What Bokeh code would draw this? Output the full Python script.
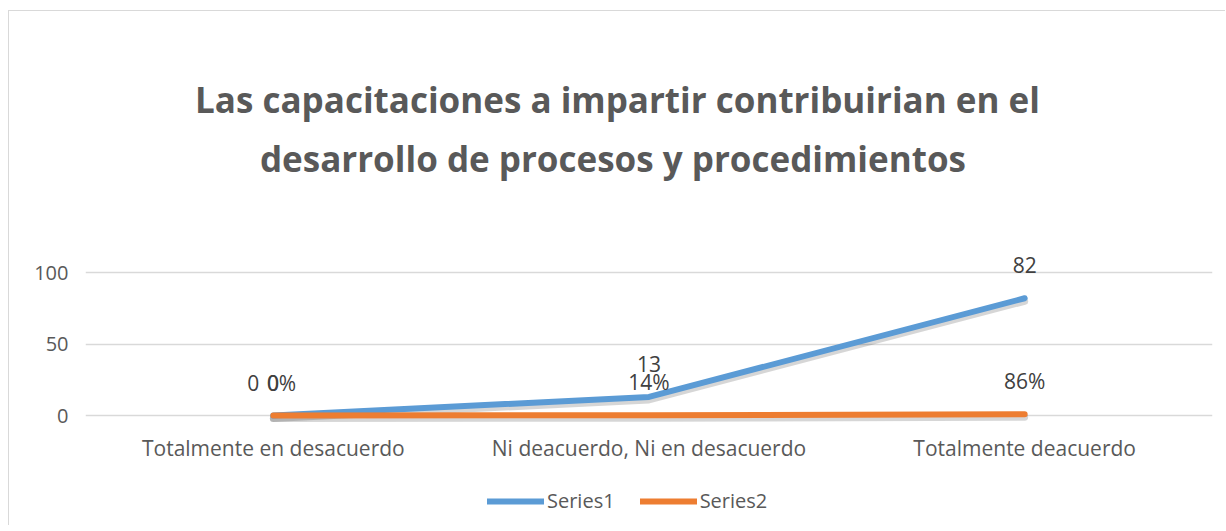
from bokeh.plotting import figure
from bokeh.models import (FactorRange, Range1d, Legend, LegendItem,
                          FixedTicker, ColumnDataSource)
from bokeh.core.properties import value
from bokeh.embed import file_html
from bokeh.resources import INLINE

# ---- data ----
categories = ["Totalmente en desacuerdo", "Ni deacuerdo, Ni en desacuerdo", "Totalmente deacuerdo"]
series1 = [0, 13, 82]
series2 = [0.0, 0.14, 0.86]
series1_labels = ["0", "13", "82"]
series2_labels = ["0%", "14%", "86%"]
extra_labels = ["0"]           # stray label drawn at the first category
y_ticks = [0, 50, 100]
title_lines = ["Las capacitaciones a impartir contribuirian en el",
               "desarrollo  de procesos y procedimientos"]

FONT = "Open Sans"
BLUE = "#5b9bd5"
ORANGE = "#ed7d31"
GRAY_TXT = "#595959"
LBL_TXT = "#404040"
GRID = "#d9d9d9"

# ---- layout (pixels) ----
FRAME_W, FRAME_H = 1127, 514
PX_PER_UNIT = 143.0 / 100.0          # 100 units of value axis = 143 px
ZERO_FROM_TOP = 404                  # y=0 line, px below frame top
y_end = ZERO_FROM_TOP / PX_PER_UNIT
y_start = -(FRAME_H - ZERO_FROM_TOP) / PX_PER_UNIT
TITLE_PX_FROM_TOP = [88, 147]        # centre of each title line below frame top
TITLE_CENTER_PX = 532                # horizontal centre, px from frame left
title_y = [(ZERO_FROM_TOP - t) / PX_PER_UNIT for t in TITLE_PX_FROM_TOP]
title_x = TITLE_CENTER_PX / FRAME_W * len(categories)

p = figure(x_range=FactorRange(*categories, range_padding=0),
           y_range=Range1d(y_start, y_end),
           width=1216, height=FRAME_H,
           frame_width=FRAME_W, frame_height=FRAME_H,
           output_backend="svg", toolbar_location=None,
           min_border_left=76, min_border_right=13,
           min_border_top=0, min_border_bottom=0)
p.title = None
p.outline_line_color = None
p.background_fill_color = "white"
p.border_fill_color = "white"
p.styles = {"margin-left": "8px", "margin-top": "10px",
            "border-left": "1px solid #d9d9d9", "border-top": "1px solid #d9d9d9"}

# title lines
tsrc = ColumnDataSource(dict(x=[title_x, title_x], y=title_y, t=title_lines))
p.text("x", "y", text="t", source=tsrc, text_font=value(FONT), text_font_style="bold",
       text_font_size="35px", text_color=GRAY_TXT, text_align="center",
       text_baseline="middle")

# shadow range (shifts the shadow copy ~3 px down)
shift = 3 / PX_PER_UNIT
p.extra_y_ranges = {"shadow": Range1d(y_start + shift, y_end + shift)}

src1 = ColumnDataSource(dict(x=categories, y=series1, t=series1_labels))
src2 = ColumnDataSource(dict(x=categories, y=series2, t=series2_labels, dx=[8, 0, 0]))
src3 = ColumnDataSource(dict(x=categories[:1], y=series1[:1], t=extra_labels))

p.line("x", "y", source=src1, y_range_name="shadow", line_color="#000000",
       line_alpha=0.16, line_width=7, line_cap="round", line_join="round")
p.line("x", "y", source=src2, y_range_name="shadow", line_color="#000000",
       line_alpha=0.16, line_width=7, line_cap="round", line_join="round")
r1 = p.line("x", "y", source=src1, line_color=BLUE, line_width=6,
            line_cap="round", line_join="round")
r2 = p.line("x", "y", source=src2, line_color=ORANGE, line_width=6,
            line_cap="round", line_join="round")

for src, dx in ((src1, 0), (src2, "dx"), (src3, -20)):
    p.text("x", "y", text="t", source=src, text_font=value(FONT), text_font_size="21px",
           text_color=LBL_TXT, text_align="center", text_baseline="middle",
           x_offset=dx, y_offset=-33)

# axes
p.yaxis.ticker = FixedTicker(ticks=y_ticks)
p.yaxis.axis_line_color = None
p.yaxis.major_tick_line_color = None
p.yaxis.minor_tick_line_color = None
p.yaxis.major_tick_out = 0
p.yaxis.major_label_standoff = 17
p.yaxis.major_label_text_font = FONT
p.yaxis.major_label_text_font_size = "20px"
p.yaxis.major_label_text_color = GRAY_TXT

p.xaxis.fixed_location = 0
p.xaxis.axis_line_color = None
p.xaxis.major_tick_line_color = None
p.xaxis.minor_tick_line_color = None
p.xaxis.major_tick_out = 0
p.xaxis.major_tick_in = 0
p.xaxis.major_label_standoff = 18
p.xaxis.major_label_text_font = FONT
p.xaxis.major_label_text_font_size = "21px"
p.xaxis.major_label_text_color = GRAY_TXT

p.xgrid.grid_line_color = None
p.ygrid.ticker = FixedTicker(ticks=y_ticks)
p.ygrid.grid_line_color = GRID
p.ygrid.grid_line_width = 1.5

legend = Legend(items=[LegendItem(label="Series1", renderers=[r1]),
                       LegendItem(label="Series2", renderers=[r2])],
                orientation="horizontal", location=(402, 11),
                glyph_width=57, glyph_height=20, label_standoff=3, spacing=25,
                label_text_font=FONT, label_text_font_size="20px",
                label_text_color=GRAY_TXT, border_line_color=None,
                background_fill_alpha=0, padding=0, margin=0)
p.add_layout(legend, "center")

open("out.html", "w").write(file_html(p, INLINE))
